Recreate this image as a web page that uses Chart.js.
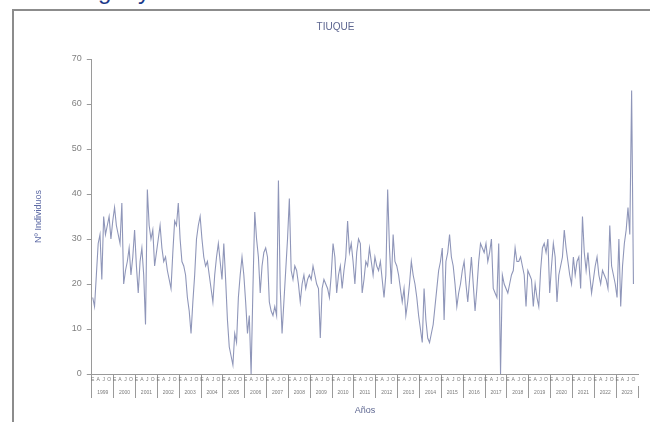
<!DOCTYPE html>
<html>
<head>
<meta charset="utf-8">
<script src="https://cdn.jsdelivr.net/npm/chart.js@4/dist/chart.umd.min.js"></script>
<style>
  html, body { margin: 0; padding: 0; background: #fff; width: 650px; height: 422px; overflow: hidden; font-family: "Liberation Sans", Arial, sans-serif; }
  #encabezado { position: absolute; left: 38px; top: -21px; font-size: 24px; line-height: 24px; color: #1d3a8a; white-space: nowrap; }
  #marco { position: absolute; left: 12px; top: 9px; width: 700px; height: 440px; border-left: 2px solid #8c8c8c; border-top: 2px solid #8c8c8c; }
  #grafico { position: absolute; left: 2px; top: 2px; }
</style>
</head>
<body>
<div id="encabezado">Ecología y</div>
<div id="marco">
  <canvas id="grafico" width="636" height="411"></canvas>
</div>
<script>
const meses = ['E', 'F', 'M', 'A', 'M', 'J', 'J', 'A', 'S', 'O', 'N', 'D'];
const anios = ['1999', '2000', '2001', '2002', '2003', '2004', '2005', '2006', '2007', '2008', '2009', '2010', '2011',
               '2012', '2013', '2014', '2015', '2016', '2017', '2018', '2019', '2020', '2021', '2022', '2023'];
// Nº de individuos por mes (enero 1999 en adelante)
const individuos = [
  17, 15, 22, 29, 31, 21, 35, 31, 33, 35, 30, 34,
  37, 33, 31, 29, 38, 20, 23, 25, 28, 22, 26, 32,
  24, 18, 25, 28, 22, 11, 41, 33, 30, 32, 24, 27,
  30, 33, 28, 25, 26, 23, 21, 19, 27, 34, 33, 38,
  30, 25, 24, 22, 17, 14, 9, 16, 22, 30, 33, 35,
  30, 26, 24, 25, 22, 19, 16, 22, 26, 29, 25, 21,
  29, 21, 12, 6, 4, 2, 9, 7, 17, 22, 26, 22,
  16, 9, 13, 0, 19, 36, 30, 26, 18, 24, 27, 28,
  26, 16, 14, 13, 15, 13, 43, 19, 9, 16, 23, 30,
  39, 23, 21, 24, 23, 20, 16, 20, 22, 19, 21, 22,
  21, 24, 22, 20, 19, 8, 19, 21, 20, 19, 17, 22,
  29, 26, 18, 22, 24, 19, 23, 26, 34, 27, 29, 25,
  20, 27, 30, 29, 18, 21, 25, 24, 28, 25, 22, 26,
  24, 23, 25, 21, 17, 22, 41, 28, 20, 31, 25, 24,
  22, 19, 16, 19, 13, 16, 20, 25, 22, 20, 17, 13,
  10, 7, 19, 12, 8, 7, 9, 11, 15, 19, 23, 25,
  28, 12, 25, 27, 31, 26, 24, 20, 15, 18, 20, 23,
  25, 20, 16, 21, 26, 20, 14, 19, 25, 29, 28, 27,
  29, 25, 27, 30, 19, 18, 17, 29, 0, 22, 20, 19,
  18, 20, 22, 23, 28, 25, 25, 26, 24, 22, 15, 23,
  22, 21, 15, 20, 17, 15, 23, 28, 29, 27, 30, 18,
  24, 29, 26, 16, 22, 24, 26, 32, 28, 25, 22, 20,
  26, 22, 25, 26, 19, 35, 27, 23, 27, 22, 18, 21,
  24, 26, 22, 20, 23, 22, 21, 19, 33, 24, 22, 20,
  17, 30, 15, 24, 29, 32, 37, 31, 63, 20
];

const etiquetasMes = anios.flatMap(a => meses.map(m => m));
const gris = '#9a9a9a';

new Chart(document.getElementById('grafico'), {
  type: 'line',
  data: {
    labels: etiquetasMes,
    datasets: [{
      label: 'TIUQUE',
      data: individuos,
      xAxisID: 'x',
      borderColor: '#8f96b9',
      borderWidth: 1.1,
      pointRadius: 0,
      tension: 0,
      fill: false
    }]
  },
  options: {
    responsive: false,
    animation: false,
    layout: { padding: { left: 17, right: 14, top: 0, bottom: 8 } },
    plugins: {
      legend: { display: false },
      tooltip: { enabled: false },
      title: {
        display: true,
        text: 'TIUQUE',
        color: '#5d6690',
        font: { size: 10, weight: 'normal', family: 'Liberation Sans' },
        padding: { top: 8, bottom: 26 }
      }
    },
    scales: {
      x: {
        type: 'category',
        offset: true,
        border: { color: gris },
        afterFit: s => { s.height = 12; },
        grid: {
          offset: true,
          drawOnChartArea: false,
          tickLength: 12,
          color: ctx => ctx.index % 12 === 0 ? gris : 'rgba(0,0,0,0)'
        },
        ticks: {
          autoSkip: false,
          maxRotation: 0,
          minRotation: 0,
          padding: -9,
          color: '#7a7a7a',
          font: { size: 5, family: 'Liberation Sans' },
          callback: (v, i) => i % 3 === 0 ? meses[i % 12] : ''
        }
      },
      x2: {
        type: 'category',
        labels: anios,
        position: 'bottom',
        offset: true,
        border: { display: false },
        afterFit: s => { s.height = 30; },
        grid: { offset: true, drawOnChartArea: false, tickLength: 12, color: gris },
        ticks: {
          autoSkip: false,
          maxRotation: 0,
          minRotation: 0,
          padding: -8,
          color: '#7a7a7a',
          font: { size: 5, family: 'Liberation Sans' }
        },
        title: {
          display: true,
          text: 'Años',
          color: '#5d6690',
          font: { size: 9, family: 'Liberation Sans' },
          padding: { top: 8, bottom: 0 }
        }
      },
      y: {
        min: 0,
        max: 70,
        border: { color: gris },
        grid: { drawOnChartArea: false, tickLength: 5, color: gris },
        ticks: {
          stepSize: 10,
          padding: 5,
          color: '#808080',
          font: { size: 9, family: 'Liberation Sans' }
        },
        title: {
          display: true,
          text: 'Nº Individuos',
          color: '#5d6aa5',
          font: { size: 9, family: 'Liberation Sans' },
          padding: { top: 0, bottom: 23 }
        }
      }
    }
  }
});
</script>
</body>
</html>
